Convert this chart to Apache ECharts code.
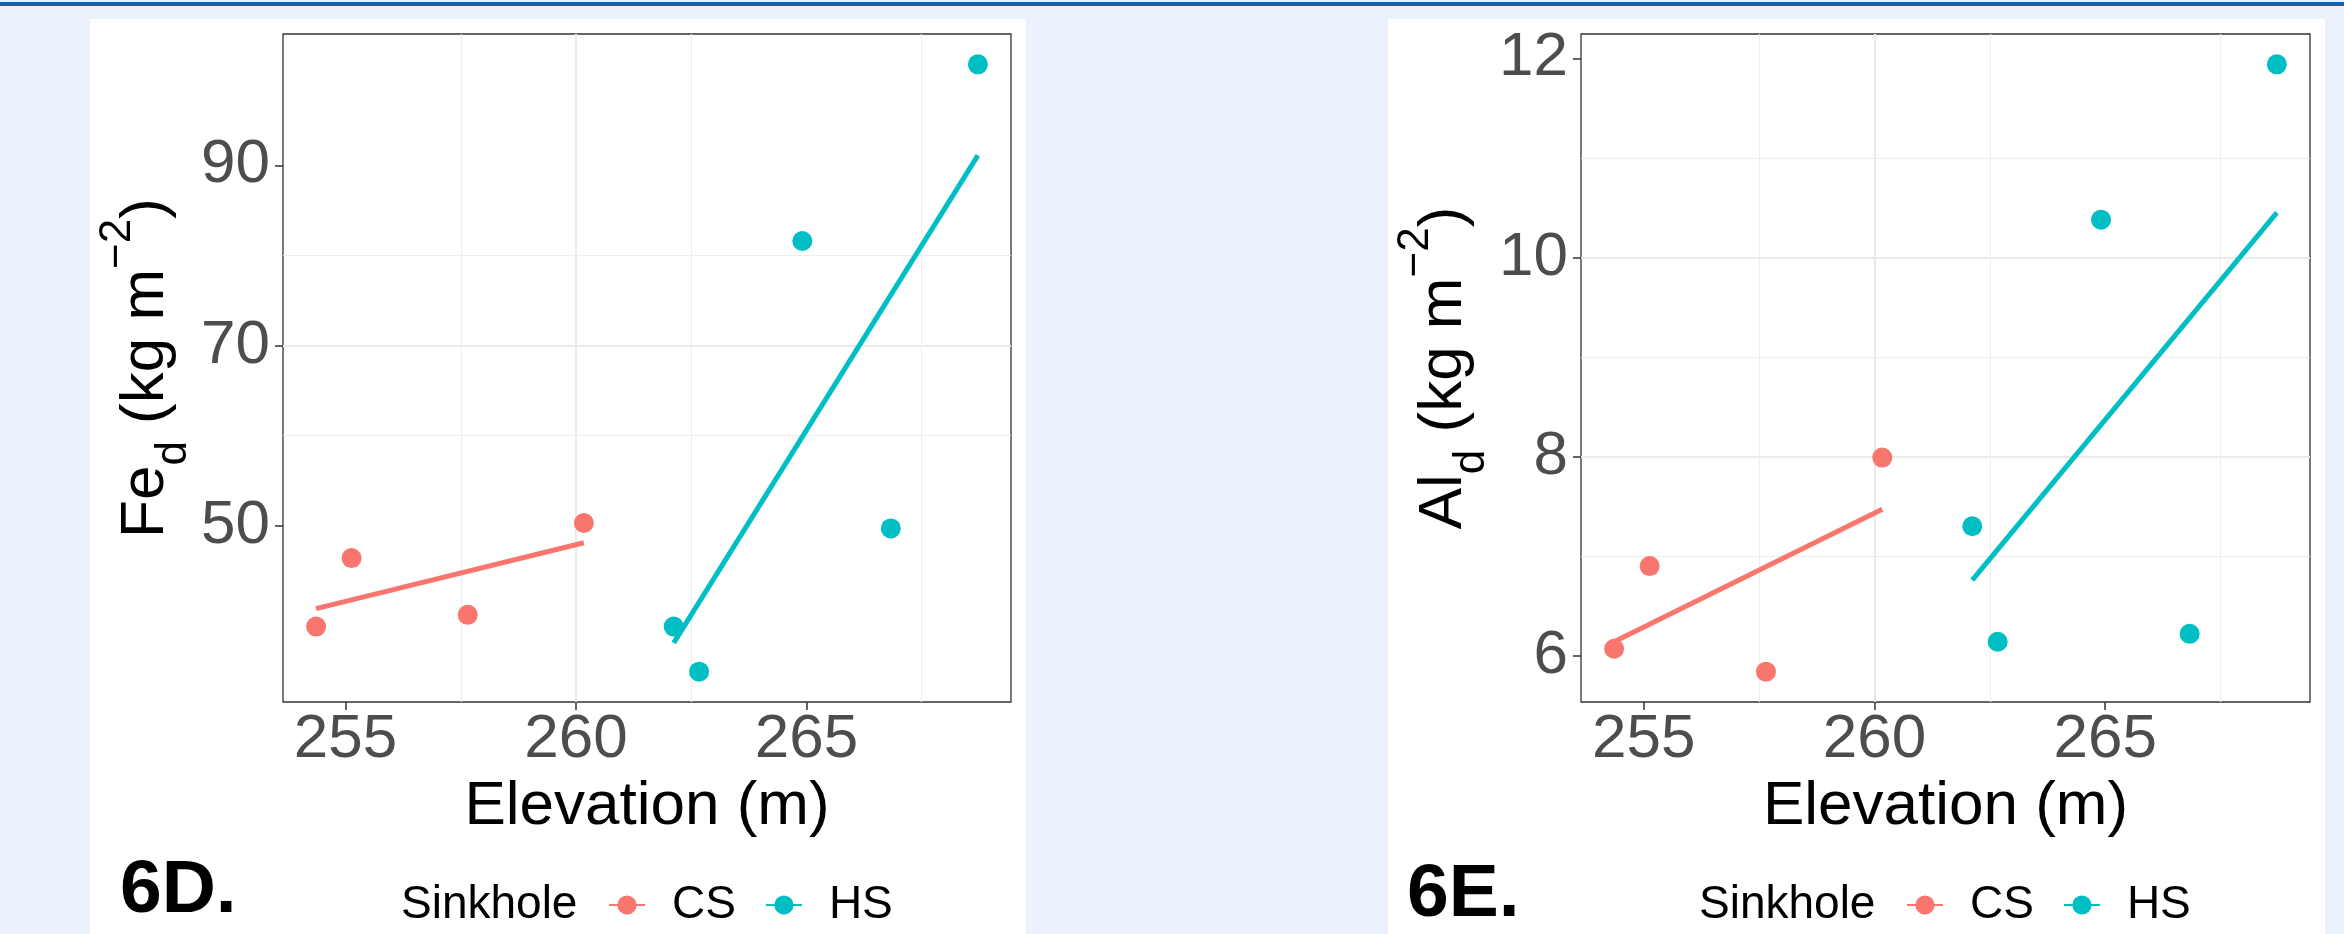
<!DOCTYPE html>
<html><head><meta charset="utf-8">
<script src="https://cdn.jsdelivr.net/npm/echarts@6/dist/echarts.min.js"></script>
<style>
html,body{margin:0;padding:0;background:#EBF2FD;width:2344px;height:934px;overflow:hidden;}
#topline{position:absolute;left:0;top:2px;width:2344px;height:4px;background:#1A5EA8;}
.panel{position:absolute;top:19px;height:915px;background:#FFFFFF;}
#c{position:absolute;left:0;top:0;width:2344px;height:934px;}
</style>
</head><body>
<div id="topline"></div>
<div class="panel" style="left:90px;width:936px;"></div>
<div class="panel" style="left:1388px;width:937px;"></div>
<div id="c"></div>
<script>
// ---- data ----
const groups = ['CS', 'HS'];
const elevCS = [254.36, 255.13, 257.65, 260.17];
const elevHS = [262.12, 262.67, 264.91, 266.83, 268.72];
const feCS = [38.8, 46.4, 40.1, 50.3];
const feHS = [38.8, 33.8, 81.6, 49.7, 101.2];
const alCS = [6.07, 6.90, 5.84, 7.99];
const alHS = [7.30, 6.14, 10.38, 6.22, 11.94];
// fitted (lm) line values at each group's lowest and highest elevation
const feFitCS = [40.8, 48.1];
const feFitHS = [37.0, 91.1];
const alFitCS = [6.14, 7.47];
const alFitHS = [6.76, 10.45];
// tick labels
const xTicks = [255, 260, 265];
const feTicks = [50, 70, 90];
const feMinor = [40, 60, 80, 100];
const alTicks = [6, 8, 10, 12];
const panelLabels = ['6D.', '6E.'];
const legendTitle = 'Sinkhole';
const xTitle = 'Elevation (m)';

const FONT = '"Liberation Sans", Arial, Helvetica, sans-serif';
const COL = {CS: '#F8766D', HS: '#00BFC4'};

function expand(v) {
  const lo = Math.min.apply(null, v), hi = Math.max.apply(null, v), r = hi - lo;
  return [lo - 0.05 * r, hi + 0.05 * r];
}
const xr = expand(elevCS.concat(elevHS));
const feR = expand(feCS.concat(feHS));
const alR = expand(alCS.concat(alHS));

const GRIDH = 668;
const grids = [
  {left: 283, top: 34, width: 728, height: GRIDH},
  {left: 1581, top: 34, width: 729, height: GRIDH}
].map(g => Object.assign(g, {show: true, borderColor: '#333333', borderWidth: 1.3,
  backgroundColor: 'transparent', containLabel: false, outerBoundsMode: 'none'}));

const tickStyle = {show: true, length: 8, lineStyle: {color: '#333333', width: 1.5}};
const labelStyle = {fontSize: 62, lineHeight: 62, color: '#4D4D4D', fontFamily: FONT};
const majorLine = {show: true, showMinLine: false, showMaxLine: false, lineStyle: {color: '#EBEBEB', width: 2.2}};
const minorLine = {show: true, lineStyle: {color: '#EDEDED', width: 1.1}};

function xAxisCfg(gi) {
  return {
    type: 'value', gridIndex: gi, min: xr[0], max: xr[1], minInterval: 5, maxInterval: 5,
    name: xTitle, nameLocation: 'middle', nameGap: 74,
    nameTextStyle: {fontSize: 62, lineHeight: 62, color: '#000000', fontFamily: FONT},
    axisLine: {show: false},
    axisTick: Object.assign({customValues: xTicks}, tickStyle),
    axisLabel: Object.assign({show: true, customValues: xTicks, margin: 7}, labelStyle),
    splitLine: majorLine,
    minorTick: {show: false, splitNumber: 2},
    minorSplitLine: minorLine
  };
}
function richName(base, sub) {
  return '{b|' + base + '}{sub|' + sub + '}{b| (kg m}{sup|\u22122}{b|)}';
}
const nameStyle = {
  color: '#000000', fontFamily: FONT, fontSize: 62, lineHeight: 100,
  rich: {
    b: {fontSize: 62, lineHeight: 100, verticalAlign: 'middle', color: '#000000', fontFamily: FONT},
    sub: {fontSize: 44, lineHeight: 62, verticalAlign: 'bottom', color: '#000000', fontFamily: FONT},
    sup: {fontSize: 44, lineHeight: 51, verticalAlign: 'top', color: '#000000', fontFamily: FONT}
  }
};

const yAxes = [
  { // Fe main
    type: 'value', gridIndex: 0, min: feR[0], max: feR[1], minInterval: 20, maxInterval: 20,
    name: richName('Fe', 'd'), nameLocation: 'middle', nameGap: 87, nameTextStyle: nameStyle,
    axisLine: {show: false},
    axisTick: Object.assign({customValues: feTicks}, tickStyle),
    axisLabel: Object.assign({show: true, customValues: feTicks, margin: 13}, labelStyle),
    splitLine: majorLine,
    minorSplitLine: {show: false}
  },
  { // Fe minor grid helper
    type: 'value', gridIndex: 0, position: 'left', min: feR[0], max: feR[1], minInterval: 20, maxInterval: 20,
    axisLine: {show: false}, axisTick: {show: false, customValues: feMinor},
    axisLabel: {show: false, customValues: feMinor},
    splitLine: {show: true, showMinLine: false, showMaxLine: false, lineStyle: {color: '#EDEDED', width: 1.1}}
  },
  { // Al main
    type: 'value', gridIndex: 1, min: alR[0], max: alR[1], minInterval: 2, maxInterval: 2,
    name: richName('Al', 'd'), nameLocation: 'middle', nameGap: 87, nameTextStyle: nameStyle,
    axisLine: {show: false},
    axisTick: Object.assign({customValues: alTicks}, tickStyle),
    axisLabel: Object.assign({show: true, customValues: alTicks, margin: 13}, labelStyle),
    splitLine: majorLine,
    minorTick: {show: false, splitNumber: 2},
    minorSplitLine: minorLine
  }
];

function zip(xs, ys) { return xs.map((x, i) => [x, ys[i]]); }
function fitData(xs, fit) { return [[Math.min.apply(null, xs), fit[0]], [Math.max.apply(null, xs), fit[1]]]; }

const panels = [
  {xi: 0, yi: 0, cs: feCS, hs: feHS, fitCS: feFitCS, fitHS: feFitHS},
  {xi: 1, yi: 2, cs: alCS, hs: alHS, fitCS: alFitCS, fitHS: alFitHS}
];
const series = [];
panels.forEach(p => {
  [['CS', elevCS, p.cs, p.fitCS], ['HS', elevHS, p.hs, p.fitHS]].forEach(([g, xs, ys, fit]) => {
    series.push({
      type: 'line', name: g, xAxisIndex: p.xi, yAxisIndex: p.yi, data: fitData(xs, fit),
      showSymbol: false, symbol: 'circle', symbolSize: 20, silent: true, z: 4,
      lineStyle: {color: COL[g], width: 5}, itemStyle: {color: COL[g]}
    });
  });
  [['CS', elevCS, p.cs], ['HS', elevHS, p.hs]].forEach(([g, xs, ys]) => {
    series.push({
      type: 'scatter', name: g, xAxisIndex: p.xi, yAxisIndex: p.yi, data: zip(xs, ys),
      symbol: 'circle', symbolSize: 20, silent: true, z: 3,
      itemStyle: {color: COL[g], opacity: 1}
    });
  });
});

function legendCfg(left) {
  return {
    data: groups, left: left, top: 882, orient: 'horizontal', padding: 0,
    itemWidth: 36, itemHeight: 24, itemGap: 29, selectedMode: false,
    textStyle: {fontSize: 46, lineHeight: 46, color: '#000000', fontFamily: FONT, padding: [0, 0, 0, 22]}
  };
}

const chart = echarts.init(document.getElementById('c'), null, {renderer: 'canvas'});
chart.setOption({
  animation: false,
  backgroundColor: 'transparent',
  grid: grids,
  xAxis: [xAxisCfg(0), xAxisCfg(1)],
  yAxis: yAxes,
  series: series,
  legend: [legendCfg(608), legendCfg(1906)],
  tooltip: {show: false},
  graphic: [
    {type: 'text', left: 401, top: 882, style: {text: legendTitle, fontSize: 46, lineHeight: 46, fontFamily: FONT, fill: '#000000'}},
    {type: 'text', left: 1699, top: 882, style: {text: legendTitle, fontSize: 46, lineHeight: 46, fontFamily: FONT, fill: '#000000'}},
    {type: 'text', left: 120, top: 854, style: {text: panelLabels[0], fontSize: 75, fontWeight: 'bold', lineHeight: 75, fontFamily: FONT, fill: '#000000'}},
    {type: 'text', left: 1407, top: 858, style: {text: panelLabels[1], fontSize: 75, fontWeight: 'bold', lineHeight: 75, fontFamily: FONT, fill: '#000000'}}
  ]
});
</script>
</body></html>
